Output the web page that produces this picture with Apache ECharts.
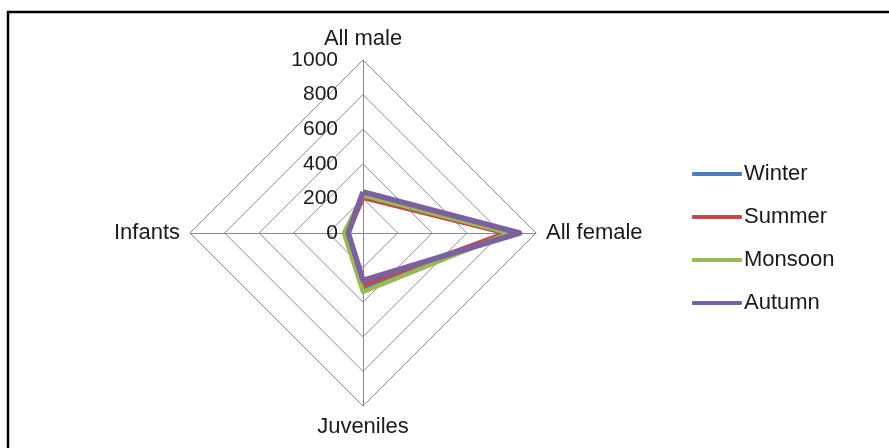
<!DOCTYPE html>
<html>
<head>
<meta charset="utf-8">
<script src="https://cdn.jsdelivr.net/npm/echarts@6/dist/echarts.min.js"></script>
<style>
  html, body { margin: 0; padding: 0; background: #fff; }
  #chart { width: 889px; height: 448px; }
</style>
</head>
<body>
<div id="chart"></div>
<script>
// Population groups on each radar axis (clockwise from the top)
const categories = ['All male', 'All female', 'Juveniles', 'Infants'];
const axisMax = 1000;

// Seasonal counts per group, in category order
const seasons = ['Winter', 'Summer', 'Monsoon', 'Autumn'];
const winter  = [210, 865, 316, 88];
const summer  = [203, 820, 303, 88];
const monsoon = [218, 845, 340, 110];
const autumn  = [238, 905, 274, 85];

const seasonValues = [winter, summer, monsoon, autumn];
const seasonColors = ['#4A7EBB', '#BE4B48', '#98B954', '#7D60A0'];

// ECharts lays radar axes out counter-clockwise; keep the first axis on top
// and reverse the rest so the groups run clockwise.
const order = [0].concat(categories.map((_, i) => i).slice(1).reverse());

const font = '"Liberation Sans", "DejaVu Sans", sans-serif';

const chart = echarts.init(document.getElementById('chart'));
chart.setOption({
  animation: false,
  textStyle: { fontFamily: font },
  graphic: [{
    type: 'rect',
    shape: { x: 8, y: 12, width: 920, height: 480 },
    style: { fill: 'none', stroke: '#000', lineWidth: 2.5 },
    silent: true
  }],
  legend: {
    orient: 'vertical',
    left: 687,
    top: 158,
    itemGap: 21,
    itemWidth: 50,
    itemHeight: 4,
    icon: 'roundRect',
    data: seasons,
    textStyle: { fontSize: 22, color: '#1a1a1a', fontFamily: font, padding: [0, 0, 0, -3] }
  },
  radar: {
    center: [363, 233],
    radius: 173,
    startAngle: 90,
    shape: 'polygon',
    splitNumber: 5,
    axisName: { color: '#1a1a1a', fontSize: 22, fontFamily: font },
    nameGap: 10,
    splitArea: { show: false },
    splitLine: { lineStyle: { color: '#8a8a8a', width: 1 } },
    axisLine: { lineStyle: { color: '#8a8a8a', width: 1 } },
    axisLabel: { show: false },
    indicator: order.map((k, i) => ({
      name: categories[k],
      min: 0,
      max: axisMax,
      axisLabel: i === 0 ? {
        show: true,
        showMinLabel: true,
        fontSize: 21,
        color: '#1a1a1a',
        fontFamily: font,
        margin: 25,
        formatter: v => String(v)
      } : { show: false }
    }))
  },
  series: [{
    type: 'radar',
    symbol: 'none',
    data: seasons.map((s, i) => ({
      name: s,
      value: order.map(k => seasonValues[i][k]),
      itemStyle: { color: seasonColors[i] },
      lineStyle: { color: seasonColors[i], width: i === 3 ? 5.5 : 4.5 }
    }))
  }]
});
</script>
</body>
</html>
